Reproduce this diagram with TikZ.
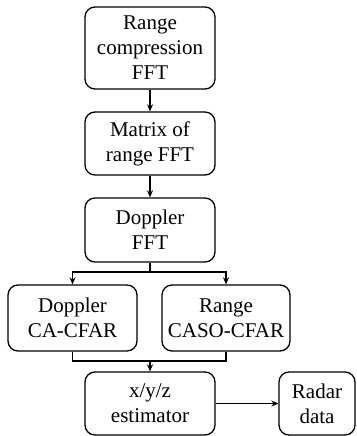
\documentclass[tikz,border=0pt]{standalone}
\usepackage{fontspec}
\setmainfont{Liberation Serif}
\usetikzlibrary{arrows.meta}
\begin{document}
\begin{tikzpicture}[x=1pt,y=-1pt,
  blk/.style={draw, line width=1.3pt, rounded corners=10pt, align=center,
    font=\fontsize{21}{25}\selectfont, inner sep=0pt},
  conn/.style={line width=1.3pt},
  arr/.style={conn, -{Stealth[length=7pt,width=6pt]}}]
\useasboundingbox (0,0) rectangle (356,436);
\node[blk, minimum width=130pt, minimum height=82pt] (b1) at (150,48) {Range\\compression\\FFT};
\node[blk, minimum width=130pt, minimum height=63pt] (b2) at (150,143.5) {Matrix of\\range FFT};
\node[blk, minimum width=130pt, minimum height=64pt] (b3) at (150,230) {Doppler\\FFT};
\node[blk, minimum width=129pt, minimum height=66pt] (ca) at (72.5,318) {Doppler\\CA-CFAR};
\node[blk, minimum width=128pt, minimum height=66pt] (caso) at (226,318) {Range\\CASO-CFAR};
\node[blk, minimum width=130pt, minimum height=63pt] (est) at (150,403.5) {x/y/z\\estimator};
\node[blk, minimum width=76pt, minimum height=63pt] (rd) at (317,403.5) {Radar\\data};
\coordinate (split) at (150,272);
\coordinate (join) at (150,361);
\draw[arr] (b1) -- (b2);
\draw[arr] (b2) -- (b3);
\draw[conn] (b3.south) -- (split);
\draw[arr] (split) -| (ca.north);
\draw[arr] (split) -| (caso.north);
\draw[conn] (ca.south) |- (join) -| (caso.south);
\draw[arr] (join) -- (est.north);
\draw[arr] (est.east) -- (rd.west);
\end{tikzpicture}
\end{document}
